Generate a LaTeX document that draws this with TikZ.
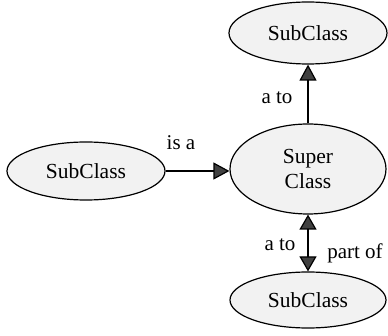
\documentclass[tikz,border=0pt]{standalone}
\usepackage{fontspec}
\setmainfont{Liberation Serif}
\usetikzlibrary{arrows.meta,shapes.geometric}
\begin{document}
\begin{tikzpicture}[x=1pt,y=-1pt,
  cls/.style={ellipse,draw=black,line width=1.2pt,fill=gray!10,inner sep=0pt,
    font=\fontsize{21.5}{25}\selectfont,align=center},
  lbl/.style={font=\fontsize{21}{25}\selectfont,inner sep=0pt},
  conn/.style={line width=1.2pt,draw=black,
    -{Triangle[length=16pt,width=17pt,fill=gray!50!black]}},
  bconn/.style={line width=1.2pt,draw=black,
    {Triangle[length=15pt,width=17pt,fill=gray!50!black]}-{Triangle[length=15pt,width=17pt,fill=gray!50!black]}}]
\useasboundingbox (0,0) rectangle (388,336);
\node[cls,minimum width=158pt,minimum height=62pt] (top) at (308,33) {SubClass};
\node[cls,minimum width=156pt,minimum height=90pt] (super) at (308,169) {Super\\Class};
\node[cls,minimum width=158pt,minimum height=58pt] (left) at (86,171) {SubClass};
\node[cls,minimum width=156pt,minimum height=56pt] (bottom) at (308,300) {SubClass};
\draw[conn] (left.east) -- (left.east -| super.west);
\draw[conn] (super.north) -- (top.south);
\draw[bconn] (super.south) -- (bottom.north);
\node[lbl] (isa) at (181,143) {is a};
\node[lbl] (atotop) at (277,98) {a to};
\node[lbl] (atobot) at (280,245) {a to};
\node[lbl] (partof) at (355,253) {part of};
\end{tikzpicture}
\end{document}
